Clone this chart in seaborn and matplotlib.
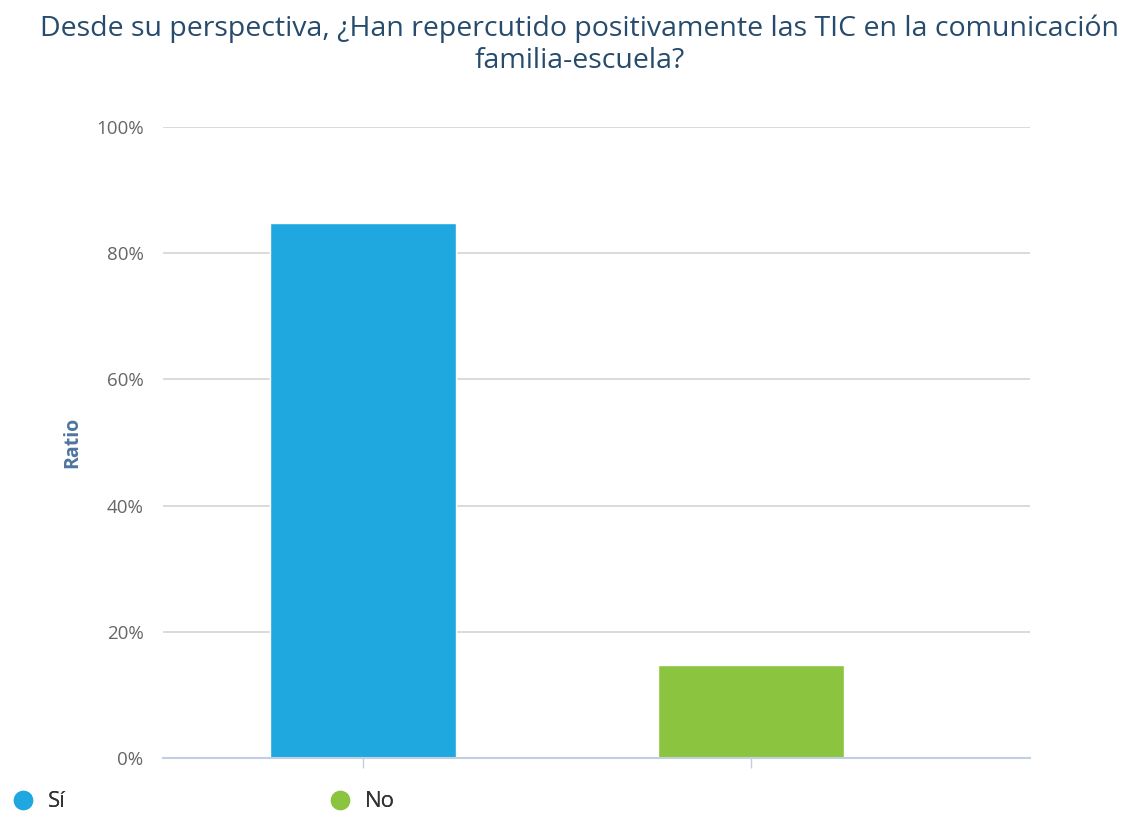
import matplotlib
matplotlib.use("Agg")
import matplotlib.pyplot as plt
import seaborn as sns
import pandas as pd
from matplotlib.lines import Line2D
from matplotlib.ticker import PercentFormatter

# data
categories = ["Sí", "No"]
ratios = [84.8, 14.7]
colors = ["#1fa8e0", "#8bc53f"]
yticks = [0, 20, 40, 60, 80, 100]
title = "Desde su perspectiva, ¿Han repercutido positivamente las TIC en la comunicación\nfamilia-escuela?"

df = pd.DataFrame({"respuesta": categories, "ratio": ratios})

sns.set_theme(style="white")
plt.rcParams["font.family"] = ["Open Sans", "DejaVu Sans"]

fig = plt.figure(figsize=(11.37, 8.16), dpi=100)
ax = fig.add_axes([163 / 1137, 58 / 816, 867 / 1137, 631 / 816])

sns.barplot(data=df, x="respuesta", y="ratio", hue="respuesta",
            palette=colors, width=0.48, saturation=1, legend=False, ax=ax)

ax.set_xlim(-0.515, 1.719)
ax.set_ylim(0, 100)
ax.set_yticks(yticks)
ax.yaxis.set_major_formatter(PercentFormatter(decimals=0))
ax.grid(axis="y", color="#d8d8d8", linewidth=1.3)
ax.set_axisbelow(True)
for s in ["top", "right", "left"]:
    ax.spines[s].set_visible(False)
ax.spines["bottom"].set_color("#c0d0e0")
ax.spines["bottom"].set_linewidth(1.5)

ax.tick_params(axis="y", length=0, pad=14, labelsize=13.5, labelcolor="#666666")
ax.tick_params(axis="x", bottom=True, length=7, width=1, color="#c0d0e0",
               labelbottom=False)
ax.set_xlabel("")
ax.set_ylabel("Ratio", fontsize=14, fontweight="bold", color="#4d759e", labelpad=10)

fig.text(0.51, 0.982, title, ha="center", va="top", fontsize=20.5,
         color="#274b6d", linespacing=1.2)

handles = [Line2D([], [], marker="o", linestyle="", markersize=13,
                  markerfacecolor=c, markeredgecolor=c) for c in colors]
for h, lab, x in zip(handles, categories, [-0.007, 0.272]):
    leg = fig.legend([h], [lab], loc="lower left", bbox_to_anchor=(x, -0.02),
                     frameon=False, fontsize=16, handletextpad=0.6,
                     handlelength=1.0, labelcolor="#333333")
    fig.add_artist(leg)

fig.savefig("out.png", dpi=100)
